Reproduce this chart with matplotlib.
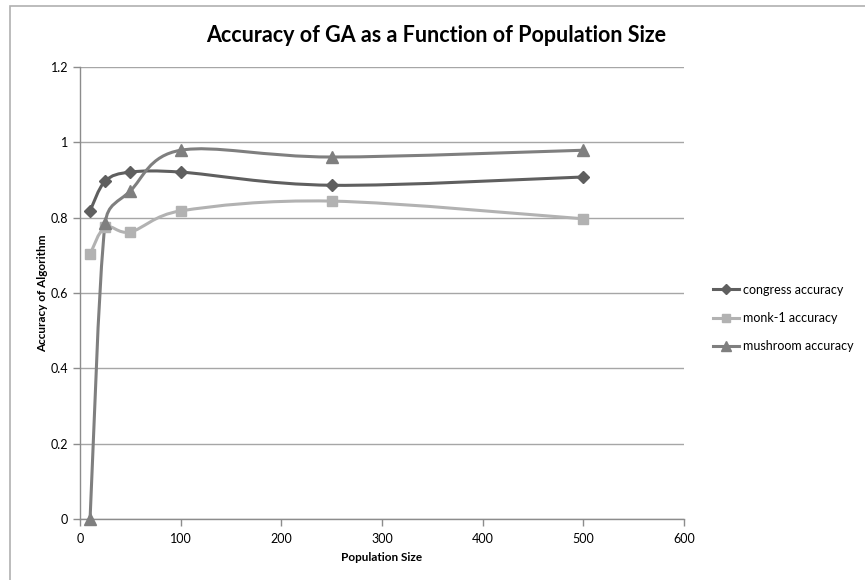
import matplotlib
matplotlib.use("Agg")
import matplotlib.pyplot as plt
from matplotlib.path import Path
from matplotlib.patches import PathPatch, Rectangle
from matplotlib.lines import Line2D
import math

plt.rcParams['font.family'] = ['Lato', 'DejaVu Sans']

pop_size = [10, 25, 50, 100, 250, 500]
congress = [0.818, 0.897, 0.921, 0.921, 0.886, 0.908]
monk1 = [0.703, 0.775, 0.762, 0.818, 0.844, 0.797]
mushroom = [0.0, 0.785, 0.871, 0.979, 0.961, 0.979]

series_names = ["congress accuracy", "monk-1 accuracy", "mushroom accuracy"]
series_vals = [congress, monk1, mushroom]
colors = ["#5f5f5f", "#b2b2b2", "#7f7f7f"]
markers = ["D", "s", "^"]
msizes = [6, 7, 8]

fig = plt.figure(figsize=(8.65, 5.8), dpi=100)
ax_rect = [80/865, 1-519/580, (684-80)/865, (519-67)/580]
ax = fig.add_axes(ax_rect)

XMAX, YMAX = 600, 1.2
# pixel scale of data units (for handle-length limiting of the smoothing)
sx = (684 - 80) / XMAX
sy = (519 - 67) / YMAX

# outer chart frame
fig.patches.append(Rectangle((9.5/865, -0.1), 1.2, 1 - 5.5/580 + 0.1, transform=fig.transFigure,
                             fill=False, edgecolor="#b0b0b0", linewidth=1.2))


def limit(p, c, q, frac=0.5):
    # limit handle p->c to frac of segment p->q length (screen space)
    hx, hy = (c[0] - p[0]) * sx, (c[1] - p[1]) * sy
    sl = math.hypot((q[0] - p[0]) * sx, (q[1] - p[1]) * sy)
    hl = math.hypot(hx, hy)
    if hl > frac * sl and hl > 0:
        k = frac * sl / hl
        return (p[0] + (c[0] - p[0]) * k, p[1] + (c[1] - p[1]) * k)
    return c


def smooth_path(xs, ys):
    pts = list(zip(xs, ys))
    n = len(pts)
    verts = [pts[0]]
    codes = [Path.MOVETO]
    for i in range(n - 1):
        p0 = pts[i - 1] if i > 0 else pts[i]
        p1 = pts[i]
        p2 = pts[i + 1]
        p3 = pts[i + 2] if i + 2 < n else pts[i + 1]
        c1 = (p1[0] + (p2[0] - p0[0]) / 6, p1[1] + (p2[1] - p0[1]) / 6)
        c2 = (p2[0] - (p3[0] - p1[0]) / 6, p2[1] - (p3[1] - p1[1]) / 6)
        c1 = limit(p1, c1, p2)
        c2 = limit(p2, c2, p1)
        verts += [c1, c2, p2]
        codes += [Path.CURVE4] * 3
    return Path(verts, codes)


handles = []
for name, vals, c, m, ms in zip(series_names, series_vals, colors, markers, msizes):
    patch = PathPatch(smooth_path(pop_size, vals), facecolor="none", edgecolor=c,
                      linewidth=2.2, zorder=3, clip_on=False)
    ax.add_patch(patch)
    ax.plot(pop_size, vals, linestyle="none", marker=m, markersize=ms, color=c,
            zorder=4, clip_on=False)
    handles.append(Line2D([], [], color=c, linewidth=2.2, marker=m, markersize=ms - 1))

ax.set_xlim(0, XMAX)
ax.set_ylim(0, YMAX)
ax.set_xticks([0, 100, 200, 300, 400, 500, 600])
ax.set_yticks([0, 0.2, 0.4, 0.6, 0.8, 1.0, 1.2])
ax.set_yticklabels(["0", "0.2", "0.4", "0.6", "0.8", "1", "1.2"])
ax.yaxis.grid(True, color="#a6a6a6", linewidth=1.0)
ax.set_axisbelow(True)
for s in ["top", "right"]:
    ax.spines[s].set_visible(False)
for s in ["left", "bottom"]:
    ax.spines[s].set_color("#8c8c8c")
    ax.spines[s].set_linewidth(1.0)
ax.tick_params(axis="both", colors="#8c8c8c", labelcolor="black", labelsize=9,
               direction="out", length=5, width=1.0)
ax.tick_params(axis="x", pad=5)

ax.set_xlabel("Population Size", fontsize=8.5, fontweight="bold", labelpad=5)
ax.set_ylabel("Accuracy of Algorithm", fontsize=8.5, fontweight="bold", labelpad=2)

fig.text(436 / 865, 1 - 36/580, "Accuracy of GA as a Function of Population Size",
         ha="center", va="center", fontsize=15.5, fontweight="bold")

fig.legend(handles, series_names, loc="center left", bbox_to_anchor=(713/865, 1 - 318/580),
           frameon=False, fontsize=9, handlelength=2.1, handletextpad=0.3,
           labelspacing=1.3, borderaxespad=0, borderpad=0)

fig.savefig("out.png", dpi=100)
